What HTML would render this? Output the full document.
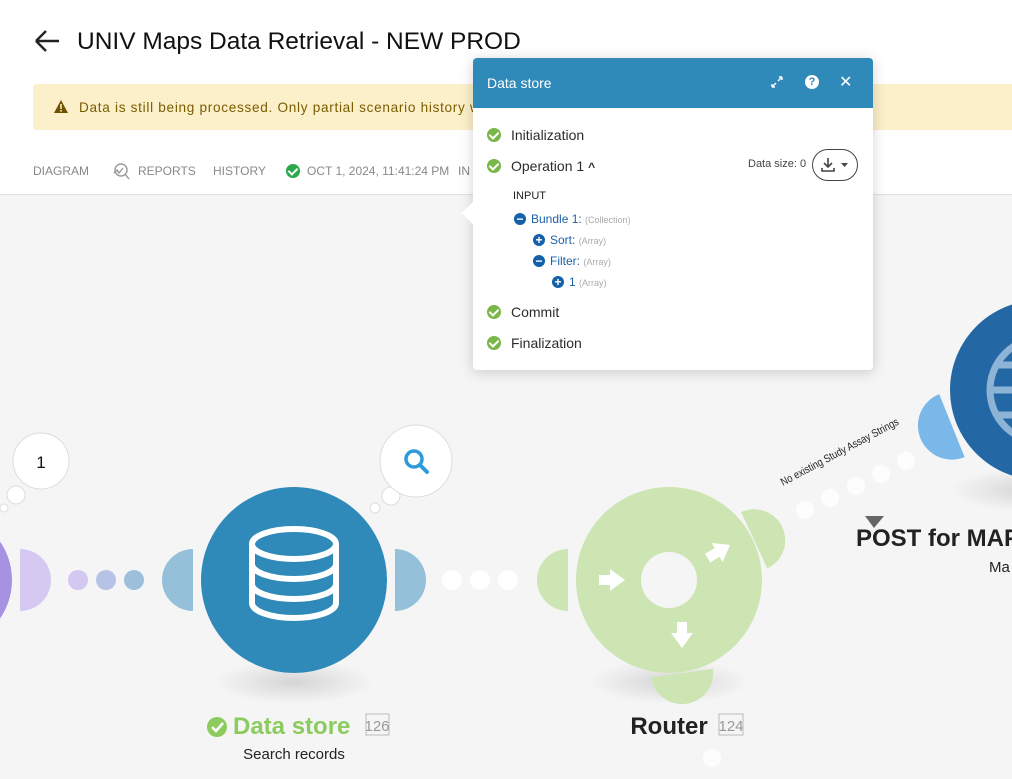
<!DOCTYPE html>
<html><head><meta charset="utf-8"><style>
body{margin:0;width:1012px;height:779px;overflow:hidden;background:#f5f5f5;font-family:"Liberation Sans",sans-serif;position:relative}
.hdr{position:absolute;left:0;top:0;width:1012px;height:194px;background:#fff;border-bottom:1px solid #e2e2e2}
.t{position:absolute;white-space:nowrap}
.pop{position:absolute;left:473px;top:58px;width:400px;height:312px;background:#fff;border-radius:4px;box-shadow:0 2px 14px rgba(0,0,0,.18);overflow:visible}
.ph{height:50px;background:#2f8ab9;border-radius:4px 4px 0 0;color:#fff}
.chk{position:absolute;width:14px;height:14px;border-radius:50%;background:#7ab648}
.chk:after{content:"";position:absolute;left:4px;top:2px;width:4px;height:7px;border:solid #fff;border-width:0 2px 2px 0;transform:rotate(45deg)}
.pm{position:absolute;width:12px;height:12px;border-radius:50%;background:#1460aa;color:#fff;font-size:12px;line-height:12px;text-align:center;font-weight:bold}
.bl{color:#1b5fa8;font-size:12px}
.gr{color:#aaa;font-size:9px}
.it{font-size:14px;color:#2c2c2c}
</style></head><body>
<div class="hdr"></div>
<svg class="t" style="left:33px;top:29px" width="28" height="24"><path d="M3 12H26M3 12L13 2M3 12L13 22" stroke="#222" stroke-width="2.4" fill="none"/></svg>
<div class="t" style="left:77px;top:28px;font-size:24.5px;color:#111">UNIV Maps Data Retrieval - NEW PROD</div>
<div class="t" style="left:33px;top:84px;width:990px;height:46px;background:#fbf0c9;border-radius:4px"></div>
<svg class="t" style="left:54px;top:100px" width="14" height="13"><path d="M7 0L14 13H0Z" fill="#6e5200"/><rect x="6.2" y="4" width="1.6" height="5" fill="#fbf0c9"/><rect x="6.2" y="10" width="1.6" height="1.6" fill="#fbf0c9"/></svg>
<div class="t" style="left:79px;top:100px;font-size:13.6px;letter-spacing:0.7px;color:#7a5c00">Data is still being processed. Only partial scenario history will show until p</div>
<div class="t" style="left:33px;top:164px;font-size:12px;color:#888">DIAGRAM</div>
<svg class="t" style="left:110px;top:161px" width="20" height="20"><circle cx="11" cy="9" r="6" stroke="#999" stroke-width="1.4" fill="none"/><path d="M15 13L19 18M4 12L7 9L9 12L13 7" stroke="#999" stroke-width="1.4" fill="none"/></svg>
<div class="t" style="left:138px;top:164px;font-size:12px;color:#888">REPORTS</div>
<div class="t" style="left:213px;top:164px;font-size:12px;color:#888">HISTORY</div>
<div class="chk" style="left:286px;top:164px;background:#2aa84a"></div>
<div class="t" style="left:307px;top:164px;font-size:12px;color:#888">OCT 1, 2024, 11:41:24 PM</div>
<div class="t" style="left:458px;top:164px;font-size:12px;color:#888">IN</div>

<svg class="t" style="left:0;top:195px" width="1012" height="584">
<defs><radialGradient id="sh"><stop offset="0" stop-color="#000" stop-opacity=".13"/><stop offset="1" stop-color="#000" stop-opacity="0"/></radialGradient></defs>
<g transform="translate(0,-195)">
<ellipse cx="294" cy="682" rx="80" ry="22" fill="url(#sh)"/>
<ellipse cx="669" cy="682" rx="80" ry="22" fill="url(#sh)"/>
<ellipse cx="1030" cy="490" rx="80" ry="22" fill="url(#sh)"/>
<ellipse cx="-40" cy="580" rx="52" ry="60" fill="#a791e3"/>
<path d="M20 549A31 31 0 0 1 20 611Z" fill="#d5c9f1"/>
<circle cx="78" cy="580" r="10" fill="#d3c8f0"/><circle cx="106" cy="580" r="10" fill="#b6c3e6"/><circle cx="134" cy="580" r="10" fill="#9cc0dc"/>
<circle cx="4" cy="508" r="4" fill="#fff" stroke="#ddd"/>
<circle cx="16" cy="495" r="9" fill="#fff" stroke="#ddd"/>
<circle cx="41" cy="461" r="28" fill="#fff" stroke="#ddd"/>
<text x="41" y="468" font-size="17" text-anchor="middle" fill="#111" font-family="Liberation Sans">1</text>
<path d="M193 549A31 31 0 0 0 193 611Z" fill="#95c0da"/>
<path d="M395 549A31 31 0 0 1 395 611Z" fill="#95c0da"/>
<circle cx="294" cy="580" r="93" fill="#2f8ab9"/>
<g stroke="#fff" stroke-width="6" fill="none"><ellipse cx="294" cy="544" rx="42" ry="15"/><path d="M252 544V603A42 15 0 0 0 336 603V544M252 564A42 15 0 0 0 336 564M252 584A42 15 0 0 0 336 584"/></g>
<circle cx="375" cy="508" r="5" fill="#fff" stroke="#ddd"/>
<circle cx="391" cy="496" r="9" fill="#fff" stroke="#ddd"/>
<circle cx="416" cy="461" r="36" fill="#fff" stroke="#ddd"/>
<circle cx="414" cy="459" r="8" stroke="#2f9ad8" stroke-width="3.5" fill="none"/><path d="M420 465L427 472" stroke="#2f9ad8" stroke-width="4" stroke-linecap="round"/>
<circle cx="452" cy="580" r="10" fill="#fff"/><circle cx="480" cy="580" r="10" fill="#fff"/><circle cx="508" cy="580" r="10" fill="#fff"/>
<path d="M568 549A31 31 0 0 0 568 611Z" fill="#cce5b2"/>
<g transform="rotate(-25 669 580)"><path d="M763 549A31 31 0 0 1 763 611Z" fill="#cce5b2"/></g>
<g transform="rotate(82 669 580)"><path d="M763 549A31 31 0 0 1 763 611Z" fill="#cce5b2"/></g>
<circle cx="669" cy="580" r="93" fill="#cce5b2"/>
<circle cx="669" cy="580" r="28" fill="#f5f5f5"/>
<path d="M599 575H610V569L625 580L610 591V585H599Z" fill="#fff"/>
<g transform="rotate(90 682 632)"><path d="M672 627H683V621L698 632L683 643V637H672Z" fill="#fff"/></g>
<g transform="rotate(-30 718 552)"><path d="M706 547H717V541L732 552L717 563V557H706Z" fill="#fff"/></g>
<circle cx="712" cy="758" r="9" fill="#fff" opacity=".8"/>
<circle cx="805" cy="510" r="9" fill="#fff" opacity=".8"/><circle cx="830" cy="498" r="9" fill="#fff" opacity=".8"/><circle cx="856" cy="486" r="9" fill="#fff" opacity=".8"/><circle cx="881" cy="474" r="9" fill="#fff" opacity=".8"/><circle cx="906" cy="461" r="9" fill="#fff" opacity=".8"/>
<text transform="translate(783 486) rotate(-28)" font-size="11" fill="#222" font-family="Liberation Sans" textLength="132" lengthAdjust="spacingAndGlyphs">No existing Study Assay Strings</text>
<g transform="rotate(-22 1040 390)"><path d="M945 356A34 34 0 0 0 945 424Z" fill="#7ab8ea"/></g>
<circle cx="1040" cy="390" r="90" fill="#2367a5"/>
<g stroke="#8db3d6" stroke-width="7" fill="none"><circle cx="1042" cy="390" r="52"/><ellipse cx="1042" cy="390" rx="22" ry="52"/><path d="M990 390H1094M995 365H1090M995 415H1090"/></g>
<text x="856" y="546" font-size="24" font-weight="bold" fill="#222" font-family="Liberation Sans">POST for MAP</text>
<path d="M865 516H884L874 528Z" fill="#666"/>
<text x="989" y="572" font-size="15" fill="#222" font-family="Liberation Sans">Ma</text>
<circle cx="217" cy="727" r="10" fill="#8ccc5e"/><path d="M212 727L216 731L223 723" stroke="#fff" stroke-width="2.5" fill="none"/>
<text x="233" y="734" font-size="24" font-weight="bold" fill="#8ccc5e" font-family="Liberation Sans">Data store</text>
<rect x="366" y="714" width="23" height="21" fill="none" stroke="#bbb"/><text x="377" y="731" font-size="15" fill="#999" text-anchor="middle" font-family="Liberation Sans">126</text>
<text x="294" y="759" font-size="15" fill="#222" text-anchor="middle" font-family="Liberation Sans">Search records</text>
<text x="669" y="734" font-size="24" font-weight="bold" fill="#222" text-anchor="middle" font-family="Liberation Sans">Router</text>
<rect x="719" y="714" width="24" height="21" fill="none" stroke="#bbb"/><text x="731" y="731" font-size="15" fill="#999" text-anchor="middle" font-family="Liberation Sans">124</text>
</g></svg>

<div class="pop">
<div style="position:absolute;left:-8px;top:147px;width:16px;height:16px;background:#fff;transform:rotate(45deg)"></div>
<div class="ph"><div class="t" style="left:14px;top:17px;font-size:14px">Data store</div>
<svg class="t" style="left:297px;top:17px" width="14" height="14"><path d="M2 12L6 8M2 12H5M2 12V9M12 2L8 6M12 2H9M12 2V5" stroke="#fff" stroke-width="1.4" fill="none"/></svg>
<div class="t" style="left:332px;top:17px;width:14px;height:14px;border-radius:50%;background:#fff;color:#2f8ab9;font-size:11px;font-weight:bold;text-align:center;line-height:14px">?</div>
<div class="t" style="left:366px;top:14px;font-size:16px">✕</div></div>
<div class="chk" style="left:14px;top:70px"></div><div class="t it" style="left:38px;top:69px">Initialization</div>
<div class="chk" style="left:14px;top:101px"></div><div class="t it" style="left:38px;top:100px">Operation 1 <b style="font-size:12px">^</b></div>
<div class="t" style="left:275px;top:100px;font-size:11px;color:#444">Data size: 0</div>
<div class="t" style="left:339px;top:91px;width:44px;height:30px;border:1px solid #444;border-radius:16px"></div>
<svg class="t" style="left:347px;top:98px" width="32" height="18"><path d="M8 2V11M4 7L8 11L12 7M2 12V15H14V12" stroke="#444" stroke-width="1.6" fill="none"/><path d="M21 7H28L24.5 11Z" fill="#444"/></svg>
<div class="t" style="left:40px;top:132px;font-size:11px;color:#222">INPUT</div>
<div class="pm" style="left:41px;top:155px">−</div><div class="t bl" style="left:58px;top:154px">Bundle 1: <span class="gr">(Collection)</span></div>
<div class="pm" style="left:60px;top:176px">+</div><div class="t bl" style="left:77px;top:175px">Sort: <span class="gr">(Array)</span></div>
<div class="pm" style="left:60px;top:197px">−</div><div class="t bl" style="left:77px;top:196px">Filter: <span class="gr">(Array)</span></div>
<div class="pm" style="left:79px;top:218px">+</div><div class="t bl" style="left:96px;top:217px">1 <span class="gr">(Array)</span></div>
<div class="chk" style="left:14px;top:247px"></div><div class="t it" style="left:38px;top:246px">Commit</div>
<div class="chk" style="left:14px;top:278px"></div><div class="t it" style="left:38px;top:277px">Finalization</div>
</div>
</body></html>
